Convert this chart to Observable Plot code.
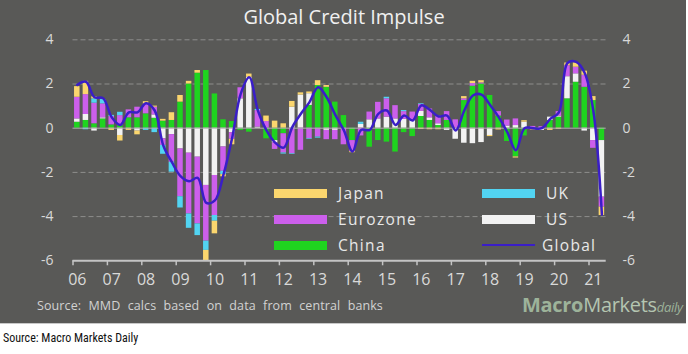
<!DOCTYPE html>
<html><head><meta charset="utf-8">
<script src="https://cdn.jsdelivr.net/npm/d3@7"></script>
<script src="https://cdn.jsdelivr.net/npm/@observablehq/plot@0.6"></script>
<style>
html,body{margin:0;padding:0;background:#fff;}
#wrap{position:relative;width:688px;height:354px;overflow:hidden;font-family:"Open Sans",sans-serif;}
#panel{position:absolute;left:0;top:0;width:686px;height:323px;background:#595957;border-bottom:1px solid #c8c8c8;}
#title{position:absolute;left:0;width:688px;top:3px;text-align:center;color:#f0f0f0;font-size:20px;line-height:28px;}
#chart{position:absolute;left:0;top:0;}
.lg{position:absolute;display:flex;align-items:center;color:#e8e8e8;font-size:15.5px;letter-spacing:1.3px;line-height:20px;}
.sw{width:53px;height:9px;margin-right:11px;}
.ln{width:53px;height:2.5px;margin-right:7px;}
#src{position:absolute;left:37px;top:297px;color:#d2d2d2;font-size:12.5px;word-spacing:4px;letter-spacing:0.1px;line-height:18px;}
#logo{position:absolute;left:522px;top:292px;font-size:20px;line-height:26px;white-space:nowrap;letter-spacing:-0.3px;}
#logo b{color:#9db39a;font-weight:700;}
#logo span{color:#b4c5b1;}
#logo i{color:#9db39a;font-size:13px;}
#foot{position:absolute;left:3px;top:329px;color:#111;font-size:12px;font-family:"Liberation Sans Narrow","Roboto Condensed","Arial Narrow",sans-serif;line-height:18px;}
</style>
</head><body>
<div id="wrap">
  <div id="panel"></div>
  <div id="title">Global Credit Impulse</div>
  <div id="chart"></div>
  <div class="lg" style="left:274px;top:183px"><div class="sw" style="background:#fbd66e"></div>Japan</div>
  <div class="lg" style="left:274px;top:209px"><div class="sw" style="background:#cc5fec"></div>Eurozone</div>
  <div class="lg" style="left:274px;top:235px"><div class="sw" style="background:#1fd41f"></div>China</div>
  <div class="lg" style="left:482px;top:183px"><div class="sw" style="background:#52d4f2"></div>UK</div>
  <div class="lg" style="left:482px;top:209px"><div class="sw" style="background:#f2f2f2"></div>US</div>
  <div class="lg" style="left:482px;top:235px"><div class="ln" style="background:#3a1ec8"></div>Global</div>
  <div id="src">Source:  MMD  calcs  based  on  data  from  central  banks</div>
  <div id="logo"><b>Macro</b><span>Markets</span><i>daily</i></div>
  <div id="foot">Source: Macro Markets Daily</div>
</div>
<script>
const years = ["06","07","08","09","10","11","12","13","14","15","16","17","18","19","20","21"];
const quarters = years.flatMap(y => ["Q1","Q2","Q3","Q4"].map(q => y + q)).slice(0, 62);

const china = [0.27,0.35,0.2,0.42, 0.15,0.15,0.47,0.47, 0.65,0.45,0.32,0.35, 1.18,2.0,2.49,2.61, 1.55,0.38,0.3,-0.1, -0.18,0,-0.48,-0.56, -0.25,0,0,1.03, 1.93,1.85,1.18,0.57, -0.56,0,-0.86,-0.56, -0.63,-1.08,-0.2,-0.38, 0.53,0.35,0.12,0.35, 0,1.25,1.9,2.0, 1.48,0.55,-0.6,-1.3, -0.35,0,0,0.35, 0.5,1.33,2.08,1.85, 1.25,-0.56];
const us = [0.15,0.27,-0.13,0.05, 0,-0.33,0,-0.13, 0,0.15,-0.48,-0.29, -0.94,-1.13,-1.31,-2.59, -2.14,-0.85,-0.2,1.33, 2.3,0.05,0,-0.1, 0,0.95,1.5,0.53, 0,-0.1,-0.1,0, 0,0.17,0.38,0.42, 0.5,0.42,0.4,0.35, 0.23,0.12,0.08,-0.1, -0.5,-0.68,-0.7,-0.65, -0.33,0,0.1,0.12, 0.27,-0.03,-0.1,0.15, 0.05,1.0,0.38,-0.13, -0.56,-2.56];
const eurozone = [0.98,0.9,0.93,0.63, 0.38,0.42,0.36,0.48, 0.45,0.35,-0.3,-1.25, -2.16,-2.75,-3.02,-2.52, -1.81,-1.1,-0.3,0.5, 0,0.75,0.3,-0.3, -0.87,-1.16,-1.0,-0.48, -0.4,-0.42,-0.42,-0.75, -0.5,-0.35,0.35,0.75, 0.83,0.6,0.35,0.38, 0.32,0.4,0.35,0.4, 0.38,0.08,0.12,0.05, 0,0.2,0.27,0.3, 0,0.08,0.07,0, 0.2,0.5,0.3,0.55, -0.35,-0.45];
const uk = [0,-0.07,0.2,0.2, 0.05,0.15,0,0, -0.1,-0.2,-0.4,-0.45, -0.51,-0.65,-0.53,-0.42, -0.26,-0.15,0,0, 0,0.05,0,0, -0.05,-0.03,0,-0.03, -0.05,0,0,0, 0,0.1,0,0, 0.07,0,0.05,0, 0.03,0,0,0, 0,0,0,0, 0,0,0,0, 0,0,0,0, 0,0,0,0, 0,0];
const japan = [0.48,0.6,0.09,0, -0.1,-0.25,-0.1,-0.17, 0.1,0.05,0.08,0.35, 0.3,0.12,0.12,-0.48, -0.57,-0.1,-0.25,0, 0.15,0,0.25,0.32, 0.2,0.26,0.1,0.08, 0.22,0.08,0,0, -0.05,0,0,0, 0,0,0,0, -0.06,-0.07,-0.07,0, 0,0.1,0.1,0.1, -0.05,-0.08,0,-0.05, 0.07,-0.05,0,-0.1, -0.05,0.12,0.2,0.18, 0.18,-0.38];
const global = [1.96,2.1,1.4,1.36, 0.5,0.15,0.72,0.72, 1.13,0.8,-0.78,-1.54, -2.17,-2.4,-2.25,-3.38, -3.27,-2.1,-0.45,1.55, 2.3,0.8,-0.1,-0.65, -0.88,0.05,0.65,1.18, 1.85,1.4,0.6,-0.1, -1.05,-0.08,-0.08,0.65, 0.8,0.15,0.57,0.35, 1.03,0.83,0.53,0.57, -0.1,0.8,1.48,1.52, 1.05,0.5,-0.18,-1.0, 0,0,0,0.42, 0.72,2.95,3.0,2.5, 0.8,-3.9];

const yTicks = [-6,-4,-2,0,2,4];
const gridValues = [-4,-2,2,4];
const seriesNames = ["China","US","Eurozone","UK","Japan"];
const seriesColors = ["#1fd41f","#f2f2f2","#cc5fec","#52d4f2","#fbd66e"];
const seriesValues = {China: china, US: us, Eurozone: eurozone, UK: uk, Japan: japan};

const rows = seriesNames.flatMap(s => seriesValues[s].map((v, i) => ({q: quarters[i], s, v})));
const lineRows = global.map((v, i) => ({q: quarters[i], v}));
const yearStarts = quarters.filter(q => q.endsWith("Q1"));

const W = 688, H = 300, ML = 72.5, MR = 82.3;
const step = (W - ML - MR) / quarters.length;

const chart = Plot.plot({
  width: W, height: H,
  marginLeft: ML, marginRight: MR, marginTop: 39.3, marginBottom: 39.7,
  style: {background: "transparent", fontFamily: "Open Sans", color: "#d9d9d9", overflow: "visible"},
  x: {type: "band", domain: quarters, paddingInner: 0.36, paddingOuter: 0.18, label: null},
  y: {domain: [-6, 4], label: null},
  color: {domain: seriesNames, range: seriesColors},
  marks: [
    Plot.ruleY(gridValues, {stroke: "#8e8e8c", strokeWidth: 1, strokeDasharray: "5,3"}),
    Plot.barY(rows, Plot.stackY({x: "q", y: "v", fill: "s"})),
    Plot.ruleY([0], {stroke: "#b0b0ae", strokeWidth: 1}),
    Plot.line(lineRows, {x: "q", y: "v", stroke: "#3a1ec8", strokeWidth: 2.5, curve: "catmull-rom"}),
    Plot.ruleY([-6], {stroke: "#c4c4c4", strokeWidth: 2}),
    Plot.axisX({ticks: yearStarts, tickSize: 5, tickFormat: () => "", label: null, dx: -step / 2, stroke: "#c4c4c4", strokeWidth: 1.5}),
    Plot.axisX({ticks: yearStarts, tickSize: 0, tickPadding: 13, tickFormat: q => q.slice(0, 2), label: null, fontSize: 16, fill: "#d9d9d9", letterSpacing: 0.5}),
    Plot.axisY({anchor: "left", ticks: yTicks, tickSize: 0, tickPadding: 19.5, tickFormat: d => String(d), label: null, fontSize: 14, fill: "#d9d9d9"}),
    Plot.axisY({anchor: "right", ticks: yTicks, tickSize: 0, tickPadding: 16.3, tickFormat: d => String(d), label: null, fontSize: 14, fill: "#d9d9d9"})
  ]
});
document.getElementById("chart").appendChild(chart);
</script>
</body></html>
